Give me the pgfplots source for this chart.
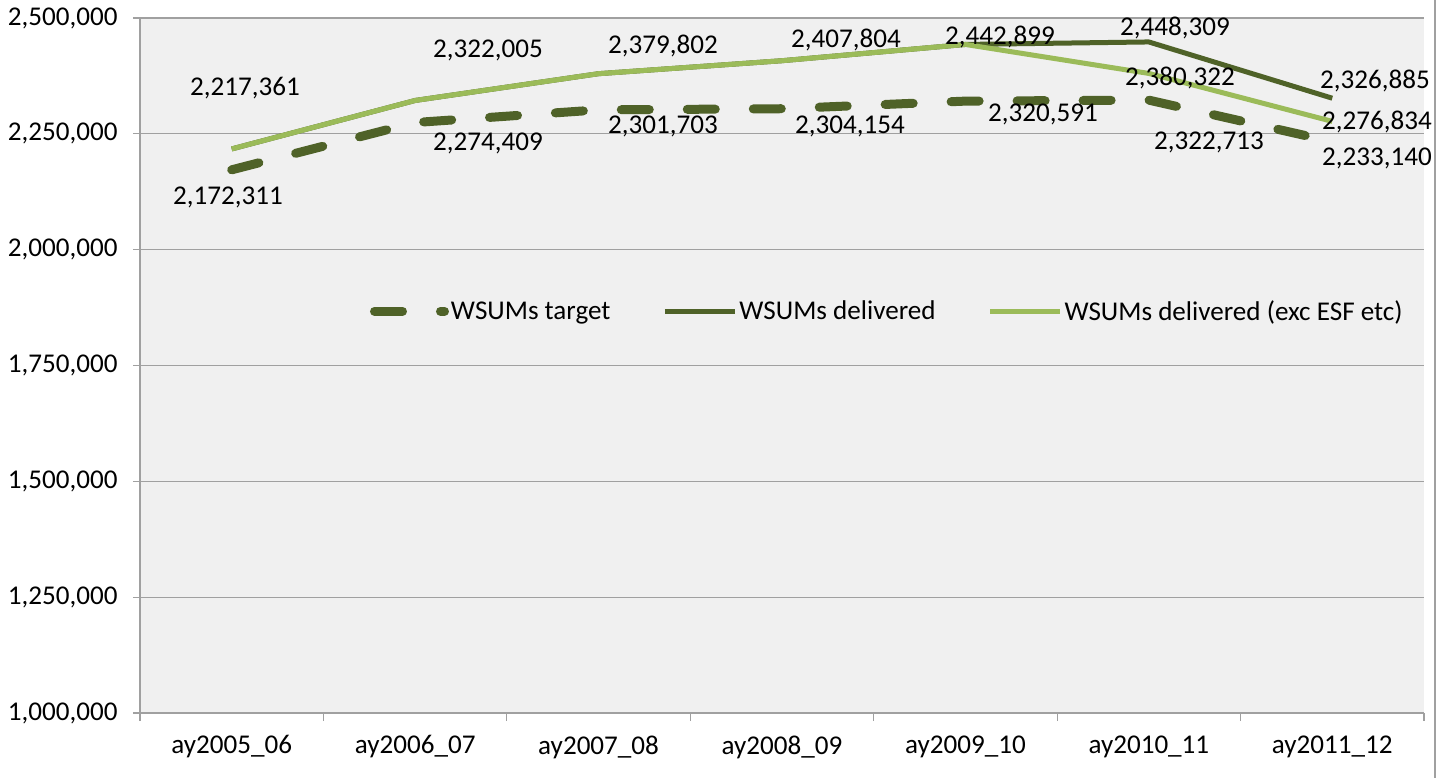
\documentclass[border=0pt]{standalone}
\usepackage{pgfplots}
\pgfplotsset{compat=1.18}
\usepackage{fontspec}
\setmainfont{Carlito}
\definecolor{darkg}{RGB}{79,98,40}
\definecolor{lightg}{RGB}{155,187,89}
\definecolor{bgg}{RGB}{240,240,240}
\definecolor{gridg}{RGB}{160,160,160}
\newcommand{\lf}{\fontsize{27.2}{31}\selectfont}
\begin{document}
\begin{tikzpicture}
\begin{axis}[
  at={(140bp,65bp)}, anchor=south west,
  scale only axis, width=1284bp, height=695bp,
  xmin=-0.5, xmax=6.5, ymin=1000000, ymax=2500000,
  axis background/.style={fill=bgg},
  axis x line=bottom, axis y line=left,
  axis line style={-, draw=gridg, line width=1.2bp},
  xtick={0,...,6},
  xticklabels={ay2005\_06,ay2006\_07,ay2007\_08,ay2008\_09,ay2009\_10,ay2010\_11,ay2011\_12},
  minor xtick={-0.5,0.5,...,6.5},
  major x tick style={draw=none},
  minor x tick style={draw=gridg, line width=1.2bp},
  minor tick length=8bp,
  major tick length=7bp,
  tick align=outside,
  ytick={1000000,1250000,...,2500000},
  y tick style={draw=gridg, line width=1.2bp},
  ymajorgrids, grid style={draw=gridg, line width=1.2bp},
  /pgf/number format/fixed,
  /pgf/number format/1000 sep={,},
  /pgf/number format/assume math mode=true,
  scaled y ticks=false,
  tick label style={font=\lf},
  xticklabel style={yshift=-12bp},
  yticklabel style={xshift=-12bp},
  legend style={at={(0.582,0.578)}, anchor=center, draw=none, fill=none,
    font=\lf, legend columns=3,
    /tikz/every even column/.append style={column sep=50bp}},
  legend cell align=left,
  legend image code/.code={\draw[#1] (0bp,0bp) -- (70bp,0bp);},
]
\addplot[darkg, line width=9bp, line cap=round, dash pattern=on 28bp off 38bp] coordinates {
(0,2172311) (1,2274409) (2,2301703) (3,2304154) (4,2320591) (5,2322713) (6,2233140)};
\addlegendentry{WSUMs target}
\addplot[darkg, line width=5bp, line join=round] coordinates {
(0,2217361) (1,2322005) (2,2379802) (3,2407804) (4,2442899) (5,2448309) (6,2326885)};
\addlegendentry{WSUMs delivered}
\addplot[lightg, line width=5bp, line join=round] coordinates {
(0,2217361) (1,2322005) (2,2379802) (3,2407804) (4,2442899) (5,2380322) (6,2276834)};
\addlegendentry{WSUMs delivered (exc ESF etc)}
\end{axis}
\begin{scope}[every node/.style={font=\lf, inner sep=0pt}]
\node at (245bp,690bp) {2,217,361};
\node at (228bp,581bp) {2,172,311};
\node at (488bp,728bp) {2,322,005};
\node at (488bp,635bp) {2,274,409};
\node at (663bp,732bp) {2,379,802};
\node at (663bp,652bp) {2,301,703};
\node at (846bp,738bp) {2,407,804};
\node at (850bp,652bp) {2,304,154};
\node at (1000bp,741bp) {2,442,899};
\node at (1043bp,664bp) {2,320,591};
\node at (1175bp,750bp) {2,448,309};
\node at (1180bp,700bp) {2,380,322};
\node at (1209bp,636bp) {2,322,713};
\node at (1375bp,697bp) {2,326,885};
\node at (1377bp,656bp) {2,276,834};
\node at (1377bp,620bp) {2,233,140};
\end{scope}
\draw[gridg, line width=1.5bp] (1435bp,0bp) -- (1435bp,778bp);
\pgfresetboundingbox
\useasboundingbox (0,0) rectangle (1443bp,778bp);
\end{tikzpicture}
\end{document}
